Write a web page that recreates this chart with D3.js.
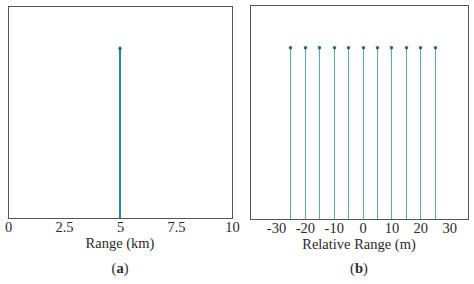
<!DOCTYPE html>
<html>
<head>
<meta charset="utf-8">
<script src="https://cdn.jsdelivr.net/npm/d3@7"></script>
<style>
  body { margin: 0; background: #fff; }
  svg text { font-family: "Liberation Serif", serif; fill: #2a2a2a; }
</style>
</head>
<body>
<div id="chart"></div>
<script>
// panel (a): single target
const rangeTicksA = [0, 2.5, 5, 7.5, 10]
const targetsA = [5]
const amplitudeA = [0.8]

// panel (b): relative positions of the scatterers
const rangeTicksB = [-30, -20, -10, 0, 10, 20, 30]
const targetsB = [-25, -20, -15, -10, -5, 0, 5, 10, 15, 20, 25]
const amplitudeB = [0.8, 0.8, 0.8, 0.8, 0.8, 0.8, 0.8, 0.8, 0.8, 0.8, 0.8]

const fontSize = "14.5px"

const svg = d3.select("#chart").append("svg")
    .attr("width", 474)
    .attr("height", 284)

function drawPanel(cfg){
    const g = svg.append("g")
    const x = d3.scaleLinear().domain(cfg.domain).range([cfg.left, cfg.right])
    const y = d3.scaleLinear().domain([0, 1]).range([cfg.bottom, cfg.top])
    // snap to pixel centre so every stem renders the same
    const px = v => Math.round(x(v)) + (cfg.stemWidth % 2 ? 0.5 : 0)

    // stems
    const pts = cfg.targets.map((t, i) => ({x: t, a: cfg.amp[i]}))
    g.selectAll(".stem").data(pts).enter()
        .append("line")
        .attr("x1", d => px(d.x)).attr("x2", d => px(d.x))
        .attr("y1", y(0)).attr("y2", d => y(d.a))
        .attr("stroke", cfg.color)
        .attr("stroke-width", cfg.stemWidth)
    g.selectAll(".dot").data(pts).enter()
        .append("circle")
        .attr("cx", d => px(d.x)).attr("cy", d => y(d.a))
        .attr("r", 1.8)
        .attr("fill", "#2a6f7a")

    // frame
    g.append("rect")
        .attr("x", cfg.left + 0.5).attr("y", cfg.top + 0.5)
        .attr("width", cfg.right - cfg.left).attr("height", cfg.bottom - cfg.top)
        .attr("fill", "none").attr("stroke", "#555").attr("stroke-width", 1)

    // axis labels (no tick marks)
    const axis = d3.axisBottom(x).tickValues(cfg.ticks).tickSize(0).tickPadding(4)
        .tickFormat(d => String(d))
    const ax = g.append("g").attr("transform", `translate(0,${cfg.bottom})`).call(axis)
    ax.select(".domain").remove()
    ax.selectAll("text")
        .style("font-family", '"Liberation Serif", serif')
        .style("font-size", fontSize)
        .attr("fill", "#2a2a2a")

    g.append("text")
        .attr("x", (cfg.left + cfg.right) / 2).attr("y", cfg.bottom + 30)
        .attr("text-anchor", "middle")
        .style("font-size", fontSize)
        .text(cfg.title)
    const cap = g.append("text")
        .attr("x", (cfg.left + cfg.right) / 2).attr("y", 273)
        .attr("text-anchor", "middle")
        .style("font-size", fontSize)
    cap.append("tspan").text("(")
    cap.append("tspan").attr("font-weight", "bold").text(cfg.tag)
    cap.append("tspan").text(")")
}

drawPanel({domain: [0, 10], left: 8, right: 232, top: 6, bottom: 218,
    ticks: rangeTicksA, targets: targetsA, amp: amplitudeA,
    color: "#1b8a9a", stemWidth: 2, title: "Range (km)", tag: "a"})

drawPanel({domain: [-39, 36.5], left: 250, right: 468, top: 5, bottom: 219,
    ticks: rangeTicksB, targets: targetsB, amp: amplitudeB,
    color: "#5aa9b4", stemWidth: 1, title: "Relative Range (m)", tag: "b"})
</script>
</body>
</html>
